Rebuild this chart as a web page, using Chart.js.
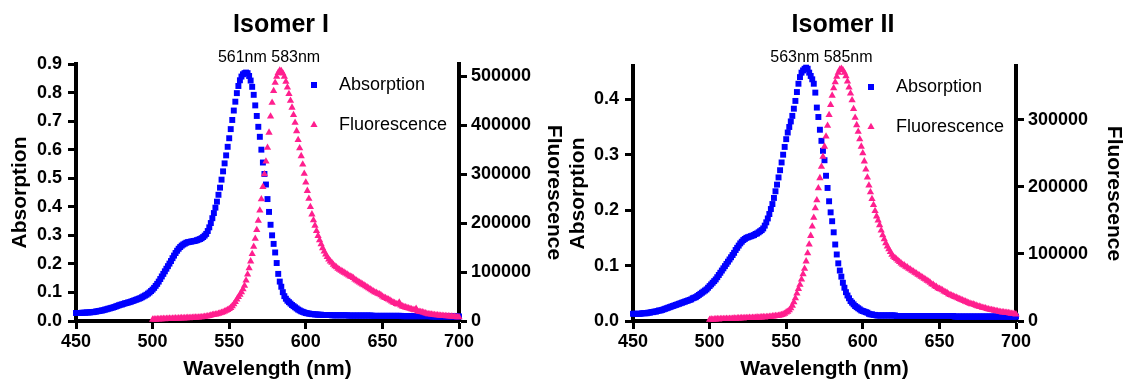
<!DOCTYPE html>
<html>
<head>
<meta charset="utf-8">
<script src="https://cdn.jsdelivr.net/npm/chart.js@4.4.1/dist/chart.umd.min.js"></script>
<style>
  html, body { margin: 0; padding: 0; background: #fff; }
  .row { display: flex; width: 1124px; height: 383px; }
  .panel { width: 562px; height: 383px; }
</style>
</head>
<body>
<div class="row">
  <div class="panel"><canvas id="isomer1" width="562" height="383"></canvas></div>
  <div class="panel"><canvas id="isomer2" width="562" height="383"></canvas></div>
</div>
<script>
// spectra sampled every 1 nm; absorption from 450 nm, fluorescence from 500 nm
const absStartNm = 450;
const flStartNm = 500;

const xTicks = [450, 500, 550, 600, 650, 700];

// Isomer I
const abs1 = [
  0.028,0.028,0.028,0.028,0.029,0.029,0.029,0.030,0.030,0.030,
  0.031,0.031,0.032,0.033,0.034,0.035,0.036,0.037,0.038,0.040,
  0.041,0.043,0.044,0.046,0.047,0.049,0.051,0.053,0.055,0.057,
  0.058,0.060,0.062,0.063,0.065,0.066,0.068,0.070,0.072,0.074,
  0.076,0.078,0.080,0.083,0.086,0.089,0.092,0.096,0.100,0.105,
  0.110,0.116,0.123,0.130,0.138,0.147,0.156,0.165,0.174,0.183,
  0.192,0.201,0.210,0.220,0.229,0.238,0.246,0.253,0.259,0.264,
  0.268,0.271,0.274,0.276,0.277,0.278,0.279,0.280,0.281,0.283,
  0.285,0.287,0.290,0.294,0.299,0.305,0.315,0.328,0.343,0.360,
  0.378,0.397,0.418,0.442,0.467,0.495,0.524,0.552,0.580,0.610,
  0.640,0.672,0.704,0.737,0.768,0.798,0.823,0.843,0.856,0.864,
  0.868,0.870,0.868,0.858,0.842,0.820,0.792,0.755,0.718,0.680,
  0.645,0.600,0.555,0.515,0.478,0.427,0.382,0.337,0.300,0.270,
  0.240,0.203,0.165,0.138,0.120,0.101,0.087,0.078,0.071,0.066,
  0.061,0.056,0.052,0.048,0.044,0.040,0.037,0.034,0.032,0.030,
  0.028,0.027,0.026,0.025,0.024,0.024,0.023,0.023,0.022,0.022,
  0.022,0.021,0.021,0.021,0.021,0.021,0.021,0.020,0.020,0.020,
  0.020,0.020,0.020,0.020,0.020,0.020,0.020,0.020,0.019,0.019,
  0.019,0.019,0.019,0.019,0.019,0.019,0.019,0.019,0.019,0.019,
  0.019,0.019,0.019,0.019,0.018,0.018,0.018,0.018,0.018,0.018,
  0.018,0.018,0.018,0.018,0.018,0.018,0.018,0.018,0.018,0.018,
  0.018,0.018,0.018,0.017,0.017,0.017,0.017,0.017,0.017,0.017,
  0.017,0.017,0.017,0.017,0.017,0.017,0.017,0.017,0.017,0.017,
  0.017,0.017,0.016,0.016,0.016,0.016,0.016,0.016,0.016,0.016,
  0.016,0.016,0.016,0.016,0.016,0.016,0.016,0.016,0.016,0.016,
  0.016
];
const fl1 = [
  3000,3500,3000,4000,3500,4000,4000,4500,4000,4500,
  4500,5000,4500,5000,5000,5500,5000,5500,5500,6000,
  5500,6000,6000,6500,6000,6500,6500,7000,7000,7500,
  7500,8000,8000,8500,9000,9500,10000,10500,11500,12500,
  13000,13500,14000,15000,16000,17000,18000,19500,21000,22500,
  24500,27000,30500,34500,39000,44000,49000,54000,59000,65000,
  72000,83000,95000,108000,122000,137000,152000,168000,186000,205000,
  226000,249000,274000,300000,326000,354000,385000,418000,446000,470000,
  487000,499000,507000,512000,511000,506000,499000,489000,477000,464000,
  450000,436000,421000,405000,388000,370000,353000,337000,320000,301000,
  283000,266000,250000,233000,218000,206000,195000,184000,174000,165000,
  157000,149000,142000,136000,131000,126000,122000,119000,115000,112000,
  110000,107000,105000,103000,101000,99000,97000,95000,93000,91000,
  90000,88000,85000,83000,81000,79000,77000,75000,73000,71000,
  69000,67000,65000,63000,61000,59000,58000,56000,55000,53000,
  50000,48000,47000,45000,44000,42000,40000,38000,37000,35000,
  34000,38000,32000,30000,29000,28000,27000,26000,25000,24000,
  23000,22000,25000,20000,19000,18500,18000,17000,16000,15000,
  14000,14000,13500,13000,12500,12000,12000,11500,11000,11000,
  10500,10500,10000,10000,9500,9500,9000,9000,8500,8000,
  8000
];
const absTicks1 = [0, 0.1, 0.2, 0.3, 0.4, 0.5, 0.6, 0.7, 0.8, 0.9];
const flTicks1 = [0, 100000, 200000, 300000, 400000, 500000];

// Isomer II
const abs2 = [
  0.013,0.013,0.013,0.013,0.013,0.013,0.014,0.014,0.014,0.014,
  0.015,0.015,0.016,0.016,0.017,0.017,0.018,0.019,0.019,0.020,
  0.021,0.022,0.023,0.024,0.025,0.026,0.027,0.028,0.029,0.030,
  0.031,0.032,0.033,0.034,0.035,0.036,0.037,0.038,0.039,0.041,
  0.042,0.043,0.045,0.047,0.049,0.051,0.053,0.055,0.057,0.060,
  0.063,0.066,0.069,0.072,0.075,0.079,0.083,0.087,0.091,0.095,
  0.099,0.103,0.107,0.111,0.115,0.119,0.123,0.128,0.132,0.136,
  0.140,0.143,0.146,0.148,0.150,0.151,0.152,0.153,0.154,0.155,
  0.157,0.158,0.160,0.162,0.164,0.167,0.172,0.178,0.185,0.193,
  0.202,0.211,0.222,0.234,0.246,0.259,0.272,0.286,0.300,0.314,
  0.328,0.340,0.350,0.360,0.370,0.383,0.397,0.413,0.428,0.440,
  0.448,0.452,0.455,0.457,0.455,0.448,0.442,0.436,0.428,0.412,
  0.385,0.368,0.345,0.325,0.307,0.290,0.262,0.240,0.216,0.196,
  0.180,0.160,0.138,0.120,0.104,0.091,0.080,0.069,0.060,0.052,
  0.046,0.041,0.036,0.033,0.030,0.027,0.025,0.023,0.021,0.019,
  0.018,0.017,0.016,0.015,0.013,0.012,0.012,0.011,0.011,0.010,
  0.010,0.010,0.010,0.010,0.010,0.010,0.010,0.010,0.010,0.010,
  0.010,0.010,0.009,0.009,0.009,0.009,0.009,0.009,0.009,0.009,
  0.009,0.009,0.009,0.009,0.009,0.009,0.009,0.009,0.009,0.009,
  0.009,0.009,0.009,0.009,0.009,0.009,0.009,0.009,0.009,0.009,
  0.009,0.009,0.009,0.009,0.009,0.009,0.009,0.009,0.009,0.009,
  0.008,0.008,0.008,0.008,0.008,0.008,0.008,0.008,0.008,0.008,
  0.008,0.008,0.008,0.008,0.008,0.008,0.008,0.008,0.008,0.008,
  0.008,0.008,0.008,0.008,0.008,0.008,0.008,0.008,0.008,0.008,
  0.008,0.008,0.008,0.008,0.008,0.008,0.008,0.008,0.008,0.008,
  0.008
];
const fl2 = [
  2000,2500,2000,2500,2500,3000,2500,3000,3000,3000,
  3000,3500,3000,3500,3500,3500,4000,3500,4000,4000,
  4000,4500,4000,4500,4500,4500,5000,4500,5000,5000,
  5000,5500,5000,5500,5500,6000,5500,6000,6000,6500,
  6500,7000,7000,7500,7500,8000,8500,9000,10000,11000,
  13000,14000,16000,19000,23000,28000,34000,41000,48000,54000,
  62000,70000,78000,89000,101000,114000,127000,141000,154000,168000,
  180000,198000,213000,230000,245000,260000,275000,291000,307000,322000,
  336000,347000,356000,364000,370000,375000,376000,374000,370000,365000,
  357000,348000,339000,329000,316000,303000,292000,282000,271000,260000,
  250000,238000,226000,214000,202000,192000,182000,173000,164000,156000,
  150000,143000,135000,128000,122000,116000,111000,107000,103000,99000,
  96000,94000,92000,90000,88000,86000,84000,83000,81000,80000,
  78000,77000,75000,74000,72000,71000,69000,68000,66000,65000,
  63000,62000,60000,59000,57000,55000,54000,52000,51000,49000,
  48000,47000,46000,44000,43000,42000,40000,39000,38000,37000,
  36000,35000,34000,33000,32000,31000,30000,29000,28000,27000,
  26000,25000,25000,24000,23000,22000,21500,21000,20000,19500,
  19000,18000,17500,17000,16500,16000,15500,15000,14500,14000,
  13500,13000,13000,12500,12500,12000,11500,11000,11000,10500,
  10000
];
const absTicks2 = [0, 0.1, 0.2, 0.3, 0.4];
const flTicks2 = [0, 100000, 200000, 300000];

const FONT = "'Liberation Sans', Arial, Helvetica, sans-serif";
const BLUE = '#0000ff';
const PINK = '#ff1f8e';

const toPoints = (values, start) => values.map((v, i) => ({ x: start + i, y: v }));

// peak labels above the plot and the legend inside it
const annotations = {
  id: 'annotations',
  afterDraw(chart, args, opts) {
    const { ctx, chartArea, scales } = chart;
    ctx.save();
    ctx.fillStyle = '#000';
    ctx.font = `16px ${FONT}`;
    ctx.textAlign = 'center';
    ctx.textBaseline = 'alphabetic';
    ctx.fillText(opts.peakText, scales.x.getPixelForValue(opts.peakTextAt), 62);

    ctx.font = `18px ${FONT}`;
    ctx.textAlign = 'left';
    ctx.textBaseline = 'middle';
    chart.data.datasets.forEach(ds => {
      const y = chartArea.top + 21 + ds.legendRow * 40;
      const mx = chartArea.right - 145;
      ctx.fillStyle = ds.backgroundColor;
      ctx.beginPath();
      if (ds.pointStyle === 'rect') {
        ctx.rect(mx - 3, y - 3, 6, 6);
      } else {
        ctx.moveTo(mx, y - 4.2);
        ctx.lineTo(mx + 3.6, y + 2.1);
        ctx.lineTo(mx - 3.6, y + 2.1);
        ctx.closePath();
      }
      ctx.fill();
      ctx.fillStyle = '#000';
      ctx.fillText(ds.label, chartArea.right - 120, y);
    });
    ctx.restore();
  }
};

function makeChart(id, p) {
  const tickFont = { family: FONT, size: 18, weight: 'bold' };
  const titleFont = { family: FONT, size: 21, weight: 'bold', lineHeight: 1 };
  const axisGrid = { drawOnChartArea: false, drawTicks: true, tickLength: 8, tickWidth: 3, tickColor: '#000' };
  const axisBorder = { color: '#000', width: 4 };

  return new Chart(document.getElementById(id), {
    type: 'scatter',
    data: {
      datasets: [
        {
          label: 'Fluorescence', legendRow: 1, yAxisID: 'yFl',
          data: toPoints(p.fl, flStartNm),
          pointStyle: 'triangle', pointRadius: 4.2, pointBorderWidth: 0,
          backgroundColor: PINK, borderColor: PINK, clip: false
        },
        {
          label: 'Absorption', legendRow: 0, yAxisID: 'yAbs',
          data: toPoints(p.abs, absStartNm),
          pointStyle: 'rect', pointRadius: 4.2, pointBorderWidth: 0,
          backgroundColor: BLUE, borderColor: BLUE, clip: false
        }
      ]
    },
    options: {
      responsive: false,
      animation: false,
      events: [],
      layout: { padding: 0 },
      plugins: {
        legend: { display: false },
        tooltip: { enabled: false },
        title: {
          display: true, text: p.title, color: '#000',
          font: { family: FONT, size: 25, weight: 'bold', lineHeight: 1.2 },
          padding: { top: 10, bottom: p.titleGap }
        },
        annotations: { peakText: p.peakText, peakTextAt: p.peakTextAt }
      },
      scales: {
        x: {
          type: 'linear', min: 450, max: 700,
          afterBuildTicks: s => { s.ticks = xTicks.map(v => ({ value: v })); },
          afterFit: s => { s.height = 62; },
          border: axisBorder, grid: axisGrid,
          ticks: { color: '#000', font: tickFont, padding: 2, maxRotation: 0 },
          title: { display: true, text: 'Wavelength (nm)', color: '#000', font: titleFont, padding: { top: 0, bottom: 3 } }
        },
        yAbs: {
          type: 'linear', position: 'left', min: 0, max: p.absMax,
          afterBuildTicks: s => { s.ticks = p.absTicks.map(v => ({ value: v })); },
          afterFit: s => { s.width = p.leftW; },
          border: axisBorder, grid: axisGrid,
          ticks: { color: '#000', font: tickFont, padding: 6, callback: v => v.toFixed(1) },
          title: { display: true, text: 'Absorption', color: '#000', font: titleFont, padding: { top: p.leftTitlePad, bottom: 0 } }
        },
        yFl: {
          type: 'linear', position: 'right', min: 0, max: p.flMax,
          afterBuildTicks: s => { s.ticks = p.flTicks.map(v => ({ value: v })); },
          afterFit: s => { s.width = p.rightW; },
          border: axisBorder, grid: axisGrid,
          ticks: { color: '#000', font: tickFont, padding: 4, callback: v => String(v) },
          title: { display: true, text: 'Fluorescence', color: '#000', font: titleFont, padding: { top: p.rightTitlePad, bottom: 0 } }
        }
      }
    },
    plugins: [annotations]
  });
}

makeChart('isomer1', {
  title: 'Isomer I', abs: abs1, fl: fl1,
  absMax: 0.9, absTicks: absTicks1, flMax: 525000, flTicks: flTicks1,
  peakText: '561nm 583nm', peakTextAt: 576,
  titleGap: 24, leftW: 76, rightW: 103, leftTitlePad: 10, rightTitlePad: -2
});

makeChart('isomer2', {
  title: 'Isomer II', abs: abs2, fl: fl2,
  absMax: 0.46, absTicks: absTicks2, flMax: 380000, flTicks: flTicks2,
  peakText: '563nm 585nm', peakTextAt: 573,
  titleGap: 26, leftW: 71, rightW: 108, leftTitlePad: 6, rightTitlePad: 0
});
</script>
</body>
</html>
